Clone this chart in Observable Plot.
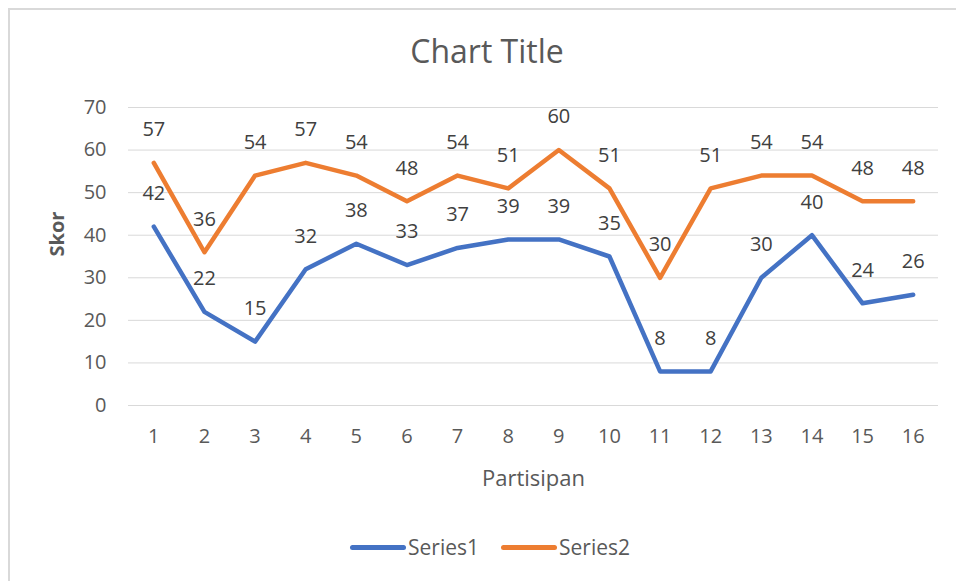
<!DOCTYPE html>
<html>
<head>
<meta charset="utf-8">
<script src="https://cdn.jsdelivr.net/npm/d3@7"></script>
<script src="https://cdn.jsdelivr.net/npm/@observablehq/plot@0.6"></script>
<style>
  html, body { margin: 0; padding: 0; background: #fff; overflow: hidden; }
  #wrap { position: relative; width: 956px; height: 581px; font-family: "Open Sans", "Noto Sans", sans-serif; color: #595959; }
  #frame { position: absolute; left: 8px; top: 8px; width: 980px; height: 600px; border: 2px solid #d9d9d9; box-sizing: border-box; }
  #title { position: absolute; left: 0; width: 974px; top: 29px; text-align: center; font-size: 32px; line-height: 1.362; color: #595959; }
  #chart { position: absolute; left: 0; top: 0; }
  #legend { position: absolute; top: 533px; left: 350px; font-size: 21px; line-height: 1.362; color: #595959; display: flex; align-items: center; }
  .sw { display: inline-block; width: 56px; height: 5px; border-radius: 3px; margin-right: 2px; }
  .item { display: flex; align-items: center; margin-right: 22px; }
</style>
</head>
<body>
<div id="wrap">
  <div id="frame"></div>
  <div id="chart"></div>
  <div id="title">Chart Title</div>
  <div id="legend"></div>
</div>
<script>
const participants = [1,2,3,4,5,6,7,8,9,10,11,12,13,14,15,16];
const series1 = [42,22,15,32,38,33,37,39,39,35,8,8,30,40,24,26];
const series2 = [57,36,54,57,54,48,54,51,60,51,30,51,54,54,48,48];
const seriesNames = ["Series1", "Series2"];
const seriesColors = ["#4472C4", "#ED7D31"];
const yTicks = [0,10,20,30,40,50,60,70];

const data = [];
participants.forEach((p, i) => {
  data.push({p, v: series1[i], s: seriesNames[0]});
  data.push({p, v: series2[i], s: seriesNames[1]});
});

const chart = Plot.plot({
  width: 956,
  height: 581,
  marginLeft: 128,
  marginRight: 18,
  marginTop: 107,
  marginBottom: 176,
  style: {fontFamily: '"Open Sans", "Noto Sans", sans-serif', fontSize: "20px", color: "#595959", background: "transparent"},
  x: {type: "point", domain: participants, padding: 0.5, round: false, label: null},
  y: {domain: [0, 70], label: null},
  color: {domain: seriesNames, range: seriesColors},
  marks: [
    Plot.gridY(yTicks, {stroke: "#d9d9d9", strokeOpacity: 1, strokeWidth: 1}),
    Plot.axisY(yTicks, {tickSize: 0, tickPadding: 22, fontSize: 20, fill: "#595959", label: null}),
    Plot.axisX(participants, {tickSize: 0, tickPadding: 23, fontSize: 20, fill: "#595959", label: null}),
    Plot.text(["Partisipan"], {frameAnchor: "bottom", lineAnchor: "middle", dy: 73, fontSize: 22, fill: "#595959"}),
    Plot.text(["Skor"], {frameAnchor: "left", dx: -71, rotate: -90, fontSize: 20, fontWeight: "bold", fill: "#595959"}),
    Plot.line(data, {x: "p", y: "v", z: "s", stroke: "s", strokeWidth: 4.5, strokeLinejoin: "round", strokeLinecap: "round"}),
    Plot.text(data, {x: "p", y: "v", text: d => String(d.v), dy: -33, fontSize: 20, fill: "#404040"})
  ]
});
document.getElementById("chart").appendChild(chart);

const legend = document.getElementById("legend");
seriesNames.forEach((name, i) => {
  const item = document.createElement("div");
  item.className = "item";
  const sw = document.createElement("span");
  sw.className = "sw";
  sw.style.background = seriesColors[i];
  item.appendChild(sw);
  const t = document.createElement("span");
  t.textContent = name;
  item.appendChild(t);
  legend.appendChild(item);
});
</script>
</body>
</html>
